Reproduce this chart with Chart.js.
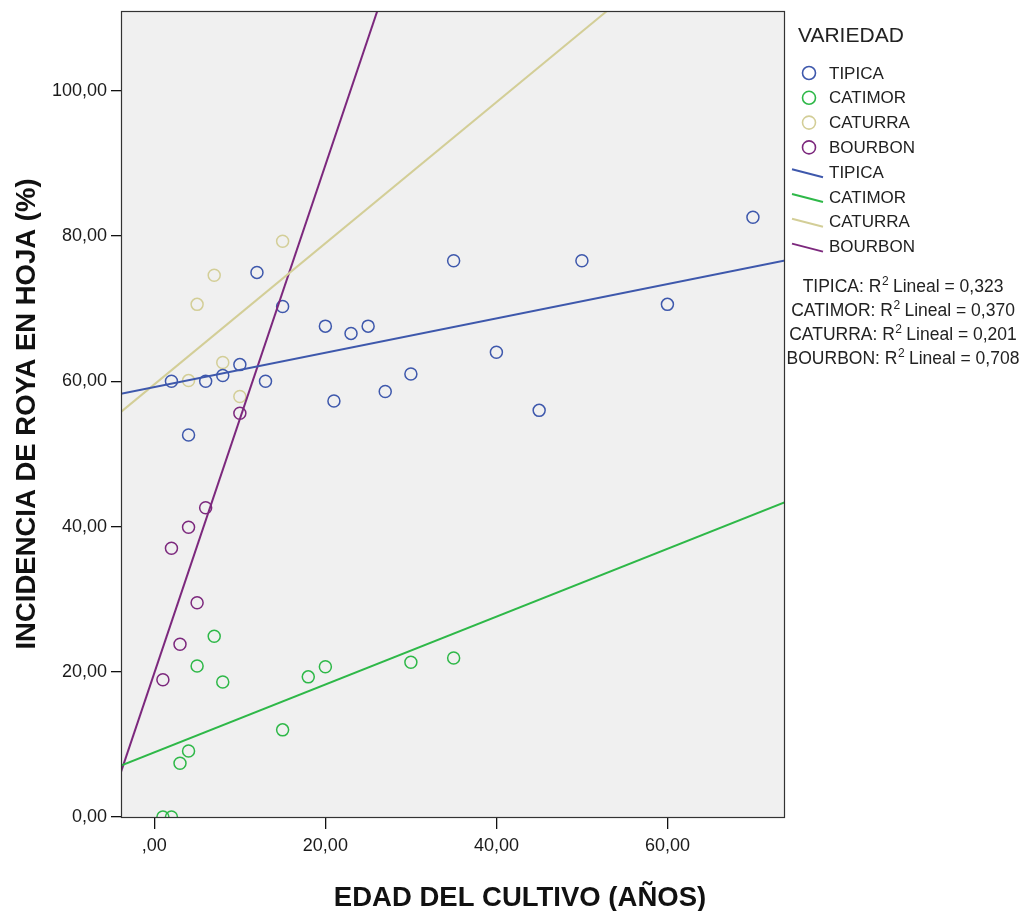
<!DOCTYPE html>
<html>
<head>
<meta charset="utf-8">
<script src="https://cdn.jsdelivr.net/npm/chart.js@4.4.1/dist/chart.umd.min.js"></script>
<style>
  html, body { margin: 0; padding: 0; background: #fff; }
  #wrap { width: 1027px; height: 911px; position: relative; }
</style>
</head>
<body>
<div id="wrap"><canvas id="roya"></canvas></div>
<script>
// edad del cultivo (años) vs incidencia de roya (%) por variedad
const varieties = ['TIPICA', 'CATIMOR', 'CATURRA', 'BOURBON']
const colors = ['#3E58AC', '#2EB848', '#D3CE97', '#7C287D']

const tipicaX = [2, 4, 6, 8, 10, 12, 13, 15, 20, 21, 23, 25, 27, 30, 35, 40, 45, 50, 60, 70]
const tipicaY = [60.0, 52.6, 60.0, 60.8, 62.3, 75.0, 60.0, 70.3, 67.6, 57.3, 66.6, 67.6, 58.6, 61.0, 76.6, 64.0, 56.0, 76.6, 70.6, 82.6]

const catimorX = [1, 2, 3, 4, 5, 7, 8, 15, 18, 20, 30, 35]
const catimorY = [0.0, 0.0, 7.4, 9.1, 20.8, 24.9, 18.6, 12.0, 19.3, 20.7, 21.3, 21.9]

const caturraX = [4, 5, 7, 8, 10, 15]
const caturraY = [60.1, 70.6, 74.6, 62.6, 57.9, 79.3]

const bourbonX = [1, 2, 3, 4, 5, 6, 10]
const bourbonY = [18.9, 37.0, 23.8, 39.9, 29.5, 42.6, 55.6]

const r2Values = ['0,323', '0,370', '0,201', '0,708']

const xTicks = [0, 20, 40, 60]
const xTickLabels = [',00', '20,00', '40,00', '60,00']
const yTicks = [0, 20, 40, 60, 80, 100]
const yTickLabels = ['0,00', '20,00', '40,00', '60,00', '80,00', '100,00']

const X_MIN = -3.9, X_MAX = 73.75
const Y_MIN = 0, Y_MAX = 111

const seriesX = [tipicaX, catimorX, caturraX, bourbonX]
const seriesY = [tipicaY, catimorY, caturraY, bourbonY]

const FONT = '"Liberation Sans", Arial, sans-serif'

// ordinary least squares
function linearFit(xs, ys) {
    const n = xs.length
    let mx = 0, my = 0
    for (let i = 0; i < n; i++) { mx += xs[i]; my += ys[i] }
    mx /= n; my /= n
    let sxy = 0, sxx = 0
    for (let i = 0; i < n; i++) {
        sxy += (xs[i] - mx) * (ys[i] - my)
        sxx += (xs[i] - mx) * (xs[i] - mx)
    }
    const slope = sxy / sxx
    return { slope, intercept: my - slope * mx }
}

const datasets = []
varieties.forEach((name, i) => {
    datasets.push({
        type: 'scatter',
        label: name,
        data: seriesX[i].map((x, j) => ({ x: x, y: seriesY[i][j] })),
        borderColor: colors[i],
        backgroundColor: 'rgba(0,0,0,0)',
        pointStyle: 'circle',
        pointRadius: 6,
        pointBorderWidth: 1.5,
        order: 2
    })
})
varieties.forEach((name, i) => {
    const fit = linearFit(seriesX[i], seriesY[i])
    datasets.push({
        type: 'line',
        label: name + ' fit',
        data: [X_MIN, X_MAX].map(x => ({ x: x, y: fit.intercept + fit.slope * x })),
        borderColor: colors[i],
        borderWidth: 2,
        pointRadius: 0,
        fill: false,
        clip: 0,
        order: 1
    })
})

// gray plot area and frame
const plotArea = {
    id: 'plotArea',
    beforeDraw(chart) {
        const { ctx, chartArea: a } = chart
        ctx.save()
        ctx.fillStyle = '#F0F0F0'
        ctx.fillRect(a.left, a.top, a.right - a.left, a.bottom - a.top)
        ctx.restore()
    },
    afterDatasetsDraw(chart) {
        const { ctx, chartArea: a } = chart
        ctx.save()
        ctx.strokeStyle = '#333'
        ctx.lineWidth = 1.2
        ctx.strokeRect(a.left + 0.5, a.top + 0.5, a.right - a.left - 1, a.bottom - a.top)
        ctx.restore()
    }
}

// axis titles, legend and R2 notes
const annotations = {
    id: 'annotations',
    afterDraw(chart) {
        const { ctx, chartArea: a } = chart
        ctx.save()
        ctx.fillStyle = '#111'

        ctx.font = 'bold 27.5px ' + FONT
        ctx.textAlign = 'center'
        ctx.textBaseline = 'alphabetic'
        ctx.fillText('EDAD DEL CULTIVO (AÑOS)', 520, 906)

        ctx.save()
        ctx.translate(35, (a.top + a.bottom) / 2)
        ctx.rotate(-Math.PI / 2)
        ctx.fillText('INCIDENCIA DE ROYA EN HOJA (%)', 0, 0)
        ctx.restore()

        ctx.fillStyle = '#222'
        ctx.textAlign = 'left'
        ctx.textBaseline = 'middle'
        ctx.font = '21px ' + FONT
        ctx.fillText('VARIEDAD', 798, 36)

        ctx.font = '17px ' + FONT
        const step = 24.8
        varieties.forEach((name, i) => {
            const y = 73 + i * step
            ctx.beginPath()
            ctx.strokeStyle = colors[i]
            ctx.lineWidth = 1.6
            ctx.arc(809, y, 6.5, 0, Math.PI * 2)
            ctx.stroke()
            ctx.fillText(name, 829, y + 1)
        })
        varieties.forEach((name, i) => {
            const y = 73 + (i + 4) * step
            ctx.beginPath()
            ctx.strokeStyle = colors[i]
            ctx.lineWidth = 2
            ctx.moveTo(792, y - 3)
            ctx.lineTo(823, y + 5)
            ctx.stroke()
            ctx.fillText(name, 829, y + 1)
        })

        // R2 lines, centred, with superscript 2
        const big = '17.5px ' + FONT
        const small = '12px ' + FONT
        varieties.forEach((name, i) => {
            const y = 286 + i * 24
            const a1 = name + ': R'
            const a2 = '2'
            const a3 = ' Lineal = ' + r2Values[i]
            ctx.font = big
            const w1 = ctx.measureText(a1).width
            const w3 = ctx.measureText(a3).width
            ctx.font = small
            const w2 = ctx.measureText(a2).width
            let x = 903 - (w1 + w2 + w3) / 2
            ctx.textBaseline = 'alphabetic'
            ctx.font = big
            ctx.fillText(a1, x, y + 6)
            x += w1
            ctx.font = small
            ctx.fillText(a2, x + 0.5, y - 1)
            x += w2
            ctx.font = big
            ctx.fillText(a3, x, y + 6)
        })
        ctx.restore()
    }
}

// keep the plot box fixed: no extra room for half tick labels
function noLabelPadding(scale) {
    scale.paddingTop = 0
    scale.paddingBottom = 0
    scale.paddingLeft = 0
    scale.paddingRight = 0
}

new Chart(document.getElementById('roya'), {
    data: { datasets: datasets },
    options: {
        responsive: true,
        maintainAspectRatio: false,
        animation: false,
        layout: { padding: { left: 0, right: 242, top: 11, bottom: 0 } },
        plugins: {
            legend: { display: false },
            tooltip: { enabled: false }
        },
        scales: {
            x: {
                type: 'linear',
                min: X_MIN,
                max: X_MAX,
                afterBuildTicks: scale => { scale.ticks = xTicks.map(v => ({ value: v })) },
                afterFit: scale => { scale.height = 94; noLabelPadding(scale) },
                border: { display: false },
                grid: { drawOnChartArea: false, drawTicks: true, tickLength: 12, color: '#111', lineWidth: 1.3 },
                ticks: {
                    padding: 6,
                    color: '#1a1a1a',
                    font: { family: FONT, size: 18 },
                    maxRotation: 0,
                    callback: v => xTickLabels[xTicks.indexOf(v)]
                }
            },
            y: {
                type: 'linear',
                min: Y_MIN,
                max: Y_MAX,
                afterBuildTicks: scale => { scale.ticks = yTicks.map(v => ({ value: v })) },
                afterFit: scale => { scale.width = 121; noLabelPadding(scale) },
                border: { display: false },
                grid: { drawOnChartArea: false, drawTicks: true, tickLength: 10, color: '#111', lineWidth: 1.3 },
                ticks: {
                    padding: 4,
                    color: '#1a1a1a',
                    font: { family: FONT, size: 18 },
                    callback: v => yTickLabels[yTicks.indexOf(v)]
                }
            }
        }
    },
    plugins: [plotArea, annotations]
})
</script>
</body>
</html>
